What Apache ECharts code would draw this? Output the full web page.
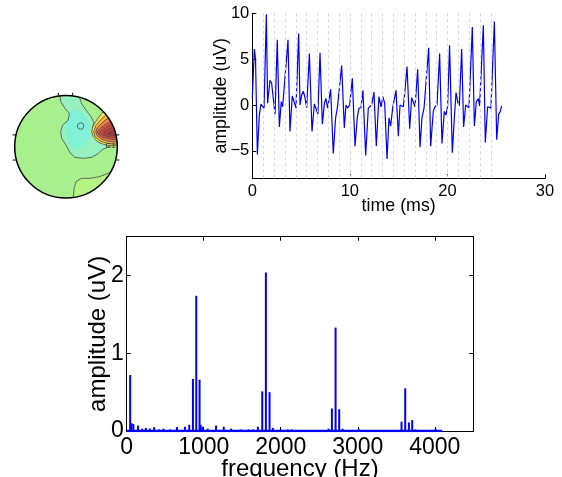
<!DOCTYPE html>
<html><head><meta charset="utf-8">
<script src="https://cdn.jsdelivr.net/npm/echarts@6/dist/echarts.min.js"></script>
<style>html,body{margin:0;padding:0;background:#fff}#c{width:562px;height:477px}</style>
</head><body><div id="c"></div>
<script>
// ---- time-domain signal (ms, uV) ----
const timeMs = [0,0.21,0.33,0.52,0.72,0.89,1.06,1.2,1.44,1.57,1.81,1.98,2.15,2.33,2.56,2.77,2.97,3.11,3.28,3.66,3.86,4.1,4.27,4.48,4.75,4.89,5.06,5.23,5.4,5.57,5.85,6.12,6.36,6.53,6.72,6.94,7.18,7.39,7.55,7.72,7.86,8.03,8.3,8.54,8.72,8.89,9.16,9.43,9.6,9.77,9.98,10.25,10.53,10.76,10.93,11.14,11.34,11.62,11.89,12.09,12.23,12.47,12.71,12.98,13.2,13.38,13.57,13.81,14.01,14.18,14.39,14.56,14.73,14.97,15.14,15.31,15.48,15.65,15.86,16.13,16.33,16.5,16.68,16.95,17.19,17.39,17.6,17.8,18.08,18.28,18.55,18.72,18.93,19.2,19.44,19.68,19.85,20.02,20.22,20.5,20.71,20.88,21.05,21.22,21.46,21.66,21.87,22.04,22.21,22.55,22.76,22.96,23.17,23.3,23.68,23.88,24.12,24.29,24.46,24.81,25.05,25.25,25.42,25.56];
const amplitudeUv = [0.7,6.1,5.0,-5.4,-1.1,0.1,-0.1,-0.35,9.9,0.2,2.7,2.4,0.7,-1.0,7.1,-2.4,0.35,-0.2,-0.1,7.1,-2.9,1.0,0.8,-0.35,7.8,0,1.1,1.5,0.8,-0.3,5.6,-2.9,0.1,0.3,-1.0,5.7,-2.1,0.2,0.7,-0.35,-0.5,1.7,-5.3,-1.4,-0.3,-0.2,4.3,-2.5,0,-0.35,0,2.9,-4.5,-1.4,-0.35,-0.3,1.6,-5.5,-0.35,-0.2,0,1.4,-4.5,0.9,-0.2,0.9,0.2,-5.9,-1.4,-2.3,-0.3,-0.2,1.6,-3.4,0,0.1,-0.2,1.6,4.2,-2.6,0.8,1.0,-0.2,3.9,-4.6,-1.4,-0.35,-0.2,6.25,-4.5,-0.7,-0.2,0,5.6,-4.2,-0.7,-1.1,-0.1,6.5,-5.2,-1.4,1.35,0.35,-0.1,6.1,-2.4,0,0.1,-0.3,8.5,-2.3,0.35,0.7,-0.1,8.7,-4.1,-0.2,-0.1,-0.35,9.1,-3.8,-1.0,-0.7,-0.1];
const periodMarksMs = [1.13,2.24,3.35,4.46,5.57,6.68,7.79,8.90,10.01,11.12,12.23,13.35,14.46,15.57,16.68,17.79,18.90,20.01,21.12,22.23,23.34,24.46];
const timeTicks = [0,10,20,30];
const ampTicks = [-5,0,5,10];

// ---- spectrum (Hz, uV) ----
const freqHz = [45,62,86,147,200,248,300,356,420,477,560,652,756,812,860,903,946,960,986,1051,1160,1260,1356,1480,1581,1640,1703,1760,1807,1855,1898,2000,2090,2145,2620,2664,2712,2759,2803,3012,3568,3616,3664,3707,3750,4010];
const specAmp = [0.72,0.1,0.09,0.07,0.03,0.04,0.03,0.05,0.02,0.03,0.02,0.05,0.055,0.08,0.67,1.74,0.66,0.08,0.055,0.03,0.07,0.055,0.03,0.02,0.02,0.02,0.055,0.51,2.04,0.5,0.04,0.02,0.02,0.02,0.03,0.29,1.33,0.28,0.03,0.03,0.12,0.55,0.11,0.14,0.02,0.03];
const noiseFloor = [[0,0],[4096,0]];
const freqTicks = [0,1000,2000,3000,4000];
const specTicks = [0,1,2];

// ---- scalp map (head units, radius 100) ----
const cyanRegion = [[-12,115],[-11.7,100.6],[-10.4,87.7],[-1.9,74.7],[6.5,64.9],[4.5,51.9],[-6.5,42.2],[-10.4,29.2],[-8.4,16.2],[0,3.2],[7.8,-11.7],[17.5,-20.8],[33.8,-22.7],[50,-20.8],[63,-13],[69.5,-6.5],[85.8,1.9],[72.7,4.7],[61,9.7],[53.2,19.5],[50,29.2],[52,39],[54.5,46.8],[48,59.7],[39,71.4],[30,84.4],[26,97.4],[24,115]];
const cyanCore = [[2,58],[12,70],[26,68],[38,58],[45,46],[46,32],[44,16],[36,6],[22,-4],[10,-1],[4,12],[1,30]];
const bottomRegion = [[14.3,-110],[14.3,-100.6],[15.6,-81],[19.5,-68],[30.5,-61.7],[46.8,-61.7],[65,-58.4],[82.5,-52],[95.5,-39],[105,-29],[112,-30],[98,-80],[60,-100]];
const smallLoop = [[28.6,46.8],[33.2,44.9],[35.1,40.3],[33.2,35.7],[28.6,33.8],[24,35.7],[22.1,40.3],[24,44.9],[28.6,46.8]];
const hotLevels = [
  [[78,75],[69.6,65.1],[59.8,52],[52,39],[50,29.2],[53.2,19.5],[61,9.7],[72.7,4.7],[85.8,1.9],[106,1.9],[112,40],[95,80]],
  [[80,64],[68,53],[58,41],[54,29],[57,19],[65,12],[78,7],[92,5],[108,5],[110,40],[95,72]],
  [[83,57],[71,47],[61,37],[58,29],[61,21],[69,15],[81,11],[95,9],[108,9],[108,45],[95,63]],
  [[86,49],[74,41],[65,34],[61,29],[64,23],[72,18],[85,15],[100,13],[108,18],[108,42],[98,50]],
  [[88,43],[77,37],[69,31],[66,28],[70,23],[80,20],[95,18],[108,22],[108,40],[98,44]],
  [[90,37],[81,33],[74,29],[73,27],[78,24],[90,22],[103,22],[108,27],[108,35],[100,38]],
  [[93,32],[86,29],[82,27],[86,25],[97,25],[106,27],[106,31],[99,33]]
];
const hotColors = ['#f3e54b','#f5b347','#ef7d3f','#e0523c','#cf433a','#c03c3a','#b03838'];
const headTicks = [[[-15,100],[-15,105]],[[13,100],[13,105]],[[-98,23],[-104,23]],[[-98,-26],[-104,-26]],[[98,23],[104,23]],[[98,-26],[104,-26]]];
const electrodeLabel = {text:'C1', pos:[87,2]};

const FONT = '"Liberation Sans", Arial, Helvetica, sans-serif';
const chart = echarts.init(document.getElementById('c'), null, {renderer:'canvas'});
const minusFmt = v => String(v).replace('-', '\u2212');
const plainFmt = v => String(v);

function axisBase(extra) {
  return Object.assign({
    type:'value',
    axisLine:{show:true, onZero:false, lineStyle:{color:'#000', width:1}},
    axisTick:{show:true, inside:true, length:4, lineStyle:{color:'#000', width:1}},
    splitLine:{show:false},
    nameLocation:'middle',
    nameMoveOverlap:false
  }, extra);
}

const option = {
  animation:false,
  backgroundColor:'#fff',
  textStyle:{fontFamily:FONT},
  grid:[
    {left:252.3, top:13.3, width:292.7, height:165, containLabel:false, outerBoundsMode:'none'},
    {left:126.7, top:236.7, width:346.6, height:194.3, containLabel:false, outerBoundsMode:'none'},
    {left:14.7, top:95.4, width:102.6, height:102.6, containLabel:false, outerBoundsMode:'none'}
  ],
  xAxis:[
    axisBase({gridIndex:0, min:0, max:30,
      axisTick:{show:true, inside:true, length:4, customValues:timeTicks, lineStyle:{color:'#000'}},
      axisLabel:{color:'#000', fontSize:16.5, fontFamily:FONT, margin:5, customValues:timeTicks, formatter:plainFmt},
      name:'time (ms)', nameGap:19, nameTextStyle:{color:'#000', fontSize:17.8, fontFamily:FONT}}),
    axisBase({gridIndex:1, min:0, max:4500,
      axisTick:{show:true, inside:true, length:4, customValues:freqTicks, lineStyle:{color:'#000'}},
      axisLabel:{color:'#000', fontSize:23, fontFamily:FONT, margin:5, customValues:freqTicks, formatter:plainFmt, hideOverlap:false},
      name:'frequency (Hz)', nameGap:26, nameTextStyle:{color:'#000', fontSize:24, fontFamily:FONT}}),
    axisBase({gridIndex:1, min:0, max:4500, position:'top',
      axisTick:{show:true, inside:true, length:4, customValues:freqTicks, lineStyle:{color:'#000'}},
      axisLabel:{show:false}}),
    {gridIndex:2, type:'value', min:-100, max:100, show:false}
  ],
  yAxis:[
    axisBase({gridIndex:0, min:-8, max:10,
      axisTick:{show:true, inside:true, length:4, customValues:ampTicks, lineStyle:{color:'#000'}},
      axisLabel:{color:'#000', fontSize:16.5, fontFamily:FONT, margin:3, customValues:ampTicks, formatter:minusFmt},
      name:'amplitude (uV)', nameGap:22, nameTextStyle:{color:'#000', fontSize:17.8, fontFamily:FONT}}),
    axisBase({gridIndex:1, min:0, max:2.5,
      axisTick:{show:true, inside:true, length:4, customValues:specTicks, lineStyle:{color:'#000'}},
      axisLabel:{color:'#000', fontSize:23, fontFamily:FONT, margin:3, customValues:specTicks, formatter:plainFmt, hideOverlap:false},
      name:'amplitude (uV)', nameGap:16, nameTextStyle:{color:'#000', fontSize:24, fontFamily:FONT}}),
    axisBase({gridIndex:1, min:0, max:2.5, position:'right',
      axisTick:{show:true, inside:true, length:4, customValues:specTicks, lineStyle:{color:'#000'}},
      axisLabel:{show:false}}),
    {gridIndex:2, type:'value', min:-100, max:100, show:false}
  ],
  series:[
    {type:'line', xAxisIndex:0, yAxisIndex:0, data:[], z:1, silent:true,
      markLine:{silent:true, symbol:['none','none'], label:{show:false},
        lineStyle:{color:'#d6d6f4', type:[3,3], width:1},
        data: periodMarksMs.map(v => ({xAxis:v}))}},
    {type:'line', xAxisIndex:0, yAxisIndex:0, z:3, symbol:'none', showSymbol:false,
      lineStyle:{color:'#0000ff', width:1.2}, itemStyle:{color:'#0000ff'},
      data: timeMs.map((t,i) => [t, amplitudeUv[i]])},
    {type:'bar', xAxisIndex:1, yAxisIndex:1, barWidth:2, z:3,
      itemStyle:{color:'#0000ff'},
      data: freqHz.map((f,i) => [f, specAmp[i]])},
    {type:'line', xAxisIndex:1, yAxisIndex:1, symbol:'none', z:4,
      lineStyle:{color:'#0000ff', width:2.6}, data: noiseFloor},
    {type:'custom', xAxisIndex:3, yAxisIndex:3, clip:false, z:2, silent:true,
      data:[[0,0]],
      renderItem:function(params, api){
        const c = api.coord([0,0]);
        const e = api.coord([100,0]);
        const R = e[0]-c[0];
        const P = pts => pts.map(p => api.coord(p));
        const line = pts => ({type:'polyline', shape:{points:P(pts)}, style:{stroke:'#4a4a4a', lineWidth:0.8, fill:'none'}});
        const ch = [];
        ch.push({type:'circle', shape:{cx:c[0], cy:c[1], r:R}, style:{fill:'#a8f08e'}});
        ch.push({type:'polygon', shape:{points:P(bottomRegion)}, style:{fill:'#b4f284'}});
        ch.push({type:'polygon', shape:{points:P(cyanRegion)}, style:{fill:'#96f0c0'}});
        ch.push({type:'polygon', shape:{points:P(cyanCore), smooth:0.4}, style:{fill:'#80f0d6'}});
        hotLevels.forEach((lv,i) => {
          ch.push({type:'polygon', shape:{points:P(lv)}, style:{fill:hotColors[i], stroke:'#4a4a4a', lineWidth:0.8}});
        });
        ch.push(line(cyanRegion.slice(1, 17)));
        ch.push(line(cyanRegion.slice(21, 27)));
        ch.push(line(bottomRegion.slice(1, 10)));
        ch.push(line(smallLoop));
        const lp = api.coord(electrodeLabel.pos);
        ch.push({type:'text', style:{text:electrodeLabel.text, x:lp[0], y:lp[1], fill:'#333', fontSize:8, fontFamily:FONT, align:'center', verticalAlign:'middle'}});
        ch.push({type:'circle', shape:{cx:c[0], cy:c[1], r:R+12}, style:{fill:'none', stroke:'#fff', lineWidth:24}});
        ch.push({type:'circle', shape:{cx:c[0], cy:c[1], r:R}, style:{fill:'none', stroke:'#000', lineWidth:1.5}});
        headTicks.forEach(t => ch.push({type:'line', shape:{x1:api.coord(t[0])[0], y1:api.coord(t[0])[1], x2:api.coord(t[1])[0], y2:api.coord(t[1])[1]}, style:{stroke:'#000', lineWidth:1}}));
        return {type:'group', children:ch};
      }}
  ]
};
chart.setOption(option);
</script></body></html>
